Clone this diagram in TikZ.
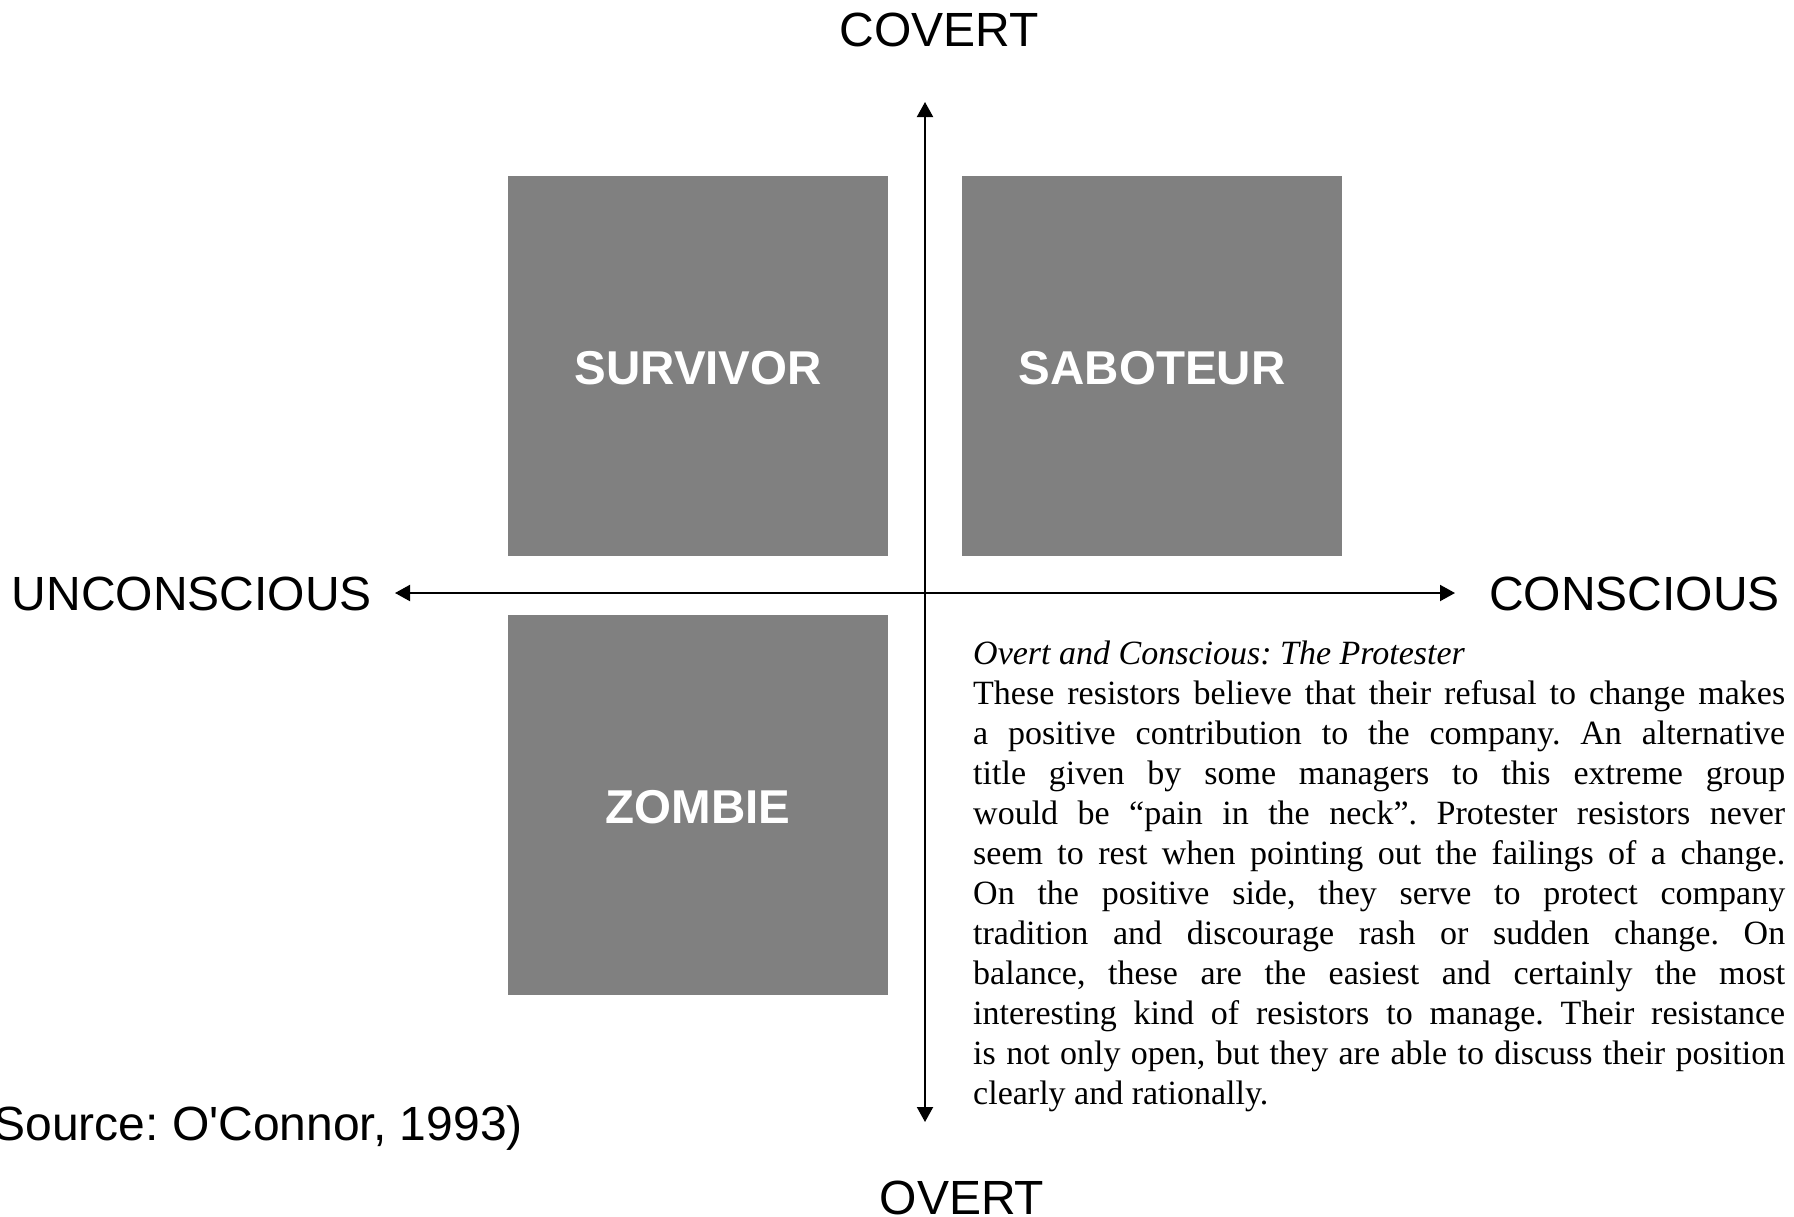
\documentclass[tikz,border=0pt]{standalone}
\usepackage{fontspec}
\setmainfont{Liberation Sans}
\newfontfamily\scanfont{Liberation Serif}
\usepackage{tikz}
\usetikzlibrary{arrows.meta}
\frenchspacing

\tikzset{
  quad/.style={fill=black!50, minimum width=380pt, minimum height=380pt, inner sep=0pt},
  quadlabel/.style={text=white, font=\fontsize{47.5}{56}\selectfont\bfseries},
  axislabel/.style={font=\fontsize{48}{56}\selectfont, inner sep=0pt},
  axis/.style={{Triangle[length=15pt,width=16pt]}-{Triangle[length=15pt,width=16pt]}, line width=2pt}
}

\begin{document}
\begin{tikzpicture}[x=1pt, y=-1pt]
\useasboundingbox (0,0) rectangle (1794,1216);
%%%%% Quadrants %%%%%
\node[quad, anchor=north west] (survivor) at (508,176) {};
\node[quad, anchor=north west] (saboteur) at (962,176) {};
\node[quad, anchor=north west] (zombie) at (508,615) {};
\node[quadlabel] at ([yshift=-2pt]survivor.center) {SURVIVOR};
\node[quadlabel] at ([yshift=-2pt]saboteur.center) {SABOTEUR};
\node[quadlabel] at ([yshift=-2pt]zombie.center) {ZOMBIE};
%%%%% Axis %%%%%
\coordinate (top) at (925,102);
\coordinate (bottom) at (925,1122);
\coordinate (left) at (395,593);
\coordinate (right) at (1455,593);
\draw[axis] (bottom)--(top);
\draw[axis] (left)--(right);
\node[axislabel] (covert) at (939,30) {COVERT};
\node[axislabel] (overt) at (962,1198) {OVERT};
\node[axislabel, anchor=east] (unconscious) at (372,594) {UNCONSCIOUS};
\node[axislabel, anchor=west] (conscious) at (1489,594) {CONSCIOUS};
\node[axislabel, anchor=base east] (source) at (523,1140) {(Source: O\textquotesingle Connor, 1993)};
%%%%% Protester text %%%%%
\node[anchor=north west, inner sep=0pt, text width=812pt, align=justify,
  font=\scanfont\fontsize{34}{40}\selectfont] (protester) at (973,641) {%
\hyphenpenalty=10000 \emergencystretch=30pt
\textit{Overt and Conscious: The Protester}\\
These resistors believe that their refusal to change makes\linebreak
a positive contribution to the company. An alternative\linebreak
title given by some managers to this extreme group\linebreak
would be “pain in the neck”. Protester resistors never\linebreak
seem to rest when pointing out the failings of a change.\linebreak
On the positive side, they serve to protect company\linebreak
tradition and discourage rash or sudden change. On\linebreak
balance, these are the easiest and certainly the most\linebreak
interesting kind of resistors to manage. Their resistance\linebreak
is not only open, but they are able to discuss their position\linebreak
clearly and rationally.};
\end{tikzpicture}
\end{document}
